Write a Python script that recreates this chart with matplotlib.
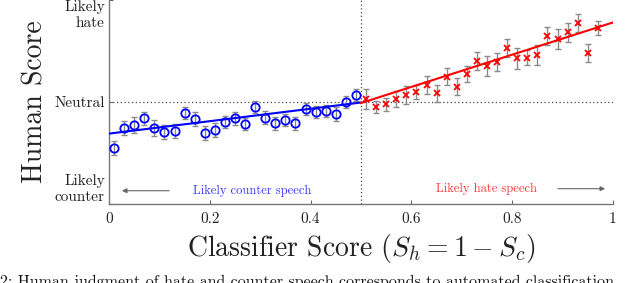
import numpy as np
import matplotlib
matplotlib.use('Agg')
import matplotlib.pyplot as plt

# 数据：分类器得分区间中心与人工评分均值
x_counter = [0.01, 0.03, 0.05, 0.07, 0.09, 0.11, 0.13, 0.15, 0.17, 0.19,
             0.21, 0.23, 0.25, 0.27, 0.29, 0.31, 0.33, 0.35, 0.37, 0.39,
             0.41, 0.43, 0.45, 0.47, 0.49]
y_counter = [-0.454, -0.252, -0.225, -0.160, -0.258, -0.291, -0.281, -0.105, -0.167, -0.307,
             -0.275, -0.193, -0.160, -0.216, -0.052, -0.154, -0.209, -0.176, -0.209, -0.069,
             -0.095, -0.088, -0.118, -0.003, 0.069]
err_counter = [0.07, 0.067, 0.075, 0.065, 0.078, 0.07, 0.068, 0.06, 0.065, 0.07,
               0.07, 0.06, 0.065, 0.06, 0.06, 0.065, 0.065, 0.06, 0.065, 0.06,
               0.06, 0.06, 0.065, 0.06, 0.06]

x_hate = [0.51, 0.53, 0.55, 0.57, 0.59, 0.61, 0.63, 0.65, 0.67, 0.69,
          0.71, 0.73, 0.75, 0.77, 0.79, 0.81, 0.83, 0.85, 0.87, 0.89,
          0.91, 0.93, 0.95, 0.97]
y_hate = [0.029, -0.052, -0.023, 0.029, 0.069, 0.095, 0.167, 0.085, 0.248, 0.150,
          0.275, 0.402, 0.353, 0.395, 0.526, 0.428, 0.434, 0.461, 0.647, 0.618,
          0.683, 0.771, 0.484, 0.722]
err_hate = [0.1, 0.06, 0.065, 0.08, 0.085, 0.07, 0.09, 0.085, 0.085, 0.085,
            0.08, 0.09, 0.095, 0.09, 0.088, 0.1, 0.075, 0.1, 0.087, 0.095,
            0.095, 0.087, 0.087, 0.07]

# 拟合直线端点
fit_counter_x = [0.0, 0.5]
fit_counter_y = [-0.31, -0.005]
fit_hate_x = [0.5, 1.0]
fit_hate_y = [-0.01, 0.78]

x_ticks = [0, 0.2, 0.4, 0.6, 0.8, 1]
x_ticklabels = ['0', '0.2', '0.4', '0.6', '0.8', '1']
y_ticks = [-1, 0, 1]
y_ticklabels = ['Likely\ncounter', 'Neutral', 'Likely\nhate']

plt.rcParams['font.family'] = ['cmr10', 'DejaVu Serif']
plt.rcParams['mathtext.fontset'] = 'cm'
plt.rcParams['axes.unicode_minus'] = False

fig = plt.figure(figsize=(6.4, 2.83), dpi=100)
ax = fig.add_axes([109 / 640, 1 - 204 / 283, 504 / 640, 204 / 283])

gray = '#8a8a8a'
ax.errorbar(x_counter, y_counter, yerr=err_counter, fmt='none', ecolor=gray,
            elinewidth=1, capsize=2.5, capthick=1, zorder=2)
ax.errorbar(x_hate, y_hate, yerr=err_hate, fmt='none', ecolor=gray,
            elinewidth=1, capsize=2.5, capthick=1, zorder=2)
ax.plot(x_counter, y_counter, 'o', mfc='none', mec='blue', ms=6, mew=1.3, zorder=3)
ax.plot(x_hate, y_hate, 'x', color='red', ms=4.5, mew=1.3, zorder=3)
ax.plot(fit_counter_x, fit_counter_y, color='blue', lw=1.5, zorder=4)
ax.plot(fit_hate_x, fit_hate_y, color='red', lw=1.5, zorder=4)

# 参考线
ax.axvline(0.5, color='#444444', ls=(0, (1, 2)), lw=0.9, zorder=1)
ax.plot([0, 1], [0, 0], color='#444444', ls=(0, (1, 2)), lw=0.9, zorder=1)

# 方向标注
ax.annotate('', xy=(0.02, -0.87), xytext=(0.125, -0.87),
            arrowprops=dict(arrowstyle='-|>', color='#666666', lw=0.8, mutation_scale=7))
ax.text(0.285, -0.87, 'Likely counter speech', color='#3838ff', fontsize=9,
        ha='center', va='center')
ax.annotate('', xy=(0.99, -0.85), xytext=(0.885, -0.85),
            arrowprops=dict(arrowstyle='-|>', color='#666666', lw=0.8, mutation_scale=7))
ax.text(0.75, -0.85, 'Likely hate speech', color='#ff3838', fontsize=9,
        ha='center', va='center')

ax.set_xlim(0, 1)
ax.set_ylim(-1, 1)
ax.set_xticks(x_ticks)
ax.set_xticklabels(x_ticklabels)
ax.set_yticks(y_ticks)
ax.set_yticklabels(y_ticklabels, multialignment='right')
labels = ax.get_yticklabels()
labels[0].set_va('bottom')
labels[2].set_va('top')
ax.tick_params(direction='in', length=3, width=0.8, colors='#666666',
               labelcolor='#222222', labelsize=11)
ax.tick_params(axis='y', pad=3)
ax.tick_params(axis='x', pad=6)

for s in ['top', 'right']:
    ax.spines[s].set_visible(False)
for s in ['left', 'bottom']:
    ax.spines[s].set_color('#777777')
    ax.spines[s].set_linewidth(1)

ax.set_xlabel('Classifier Score ($S_h = 1 - S_c$)', fontsize=20, color='#222222', labelpad=4)
ax.set_ylabel('Human Score', fontsize=20, color='#222222', labelpad=4)

fig.text(0.0, 1 - 275 / 283, '2: Human judgment of hate and counter speech corresponds to automated classification',
         fontsize=11.5, ha='left', va='top', color='#111111')

fig.savefig('out.png', dpi=100)
